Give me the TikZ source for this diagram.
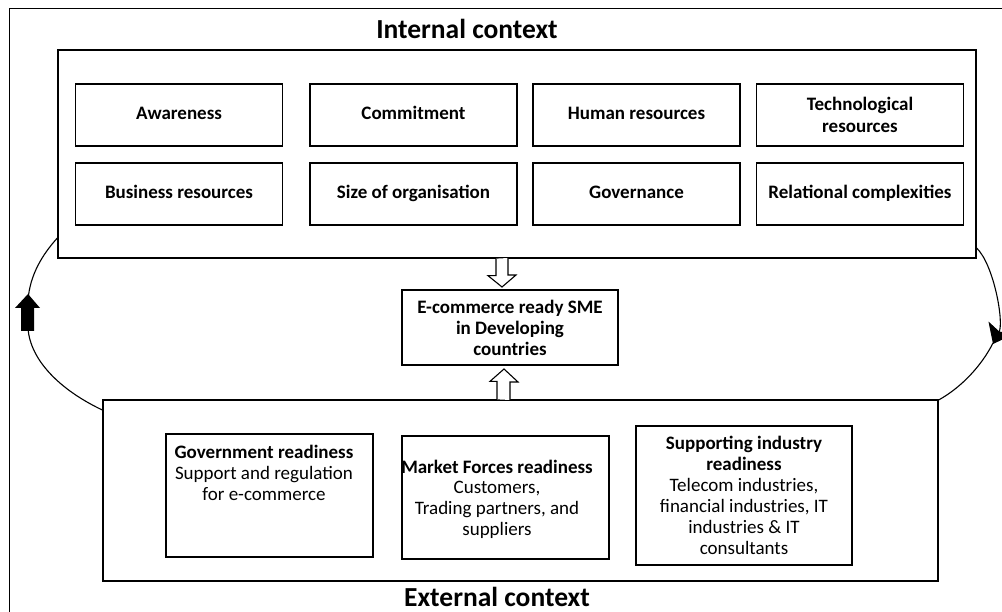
\documentclass[tikz,border=0pt]{standalone}
\usepackage{fontspec}
\setmainfont{Carlito}
\usetikzlibrary{arrows.meta,calc}
\begin{document}
\begin{tikzpicture}[x=1pt,y=-1pt,
  bigbox/.style={draw, line width=1.3pt, inner sep=0pt},
  fbox/.style={draw, line width=1.3pt, inner sep=0pt, minimum width=207pt, minimum height=62pt, align=center, font=\bfseries\fontsize{19}{22.5}\selectfont},
  one/.style={text height=13pt, text depth=4pt},
  lbox/.style={draw, line width=1.3pt, inner sep=0pt, align=center},
  txt/.style={align=center, inner sep=0pt, font=\fontsize{19}{20.7}\selectfont},
  title/.style={anchor=base, inner sep=0pt, font=\bfseries\fontsize{27.5}{30}\selectfont},
  hollow/.style={draw, line width=1.1pt, fill=white, line join=miter},
  loop/.style={line width=1.1pt}
]
\useasboundingbox (0,0) rectangle (1002,612);
% outer frame (right and bottom sides lie outside the picture)
\draw[line width=1pt] (9,612) -- (9,9) -- (1002,9);

% titles
\node[title] (intt) at (467,38.5) {Internal context};
\node[title] (extt) at (497,606) {External context};

% internal context
\node[bigbox, minimum width=918pt, minimum height=208pt] (int) at (517,154) {};
\node[fbox, one] (aw) at (179,115) {Awareness};
\node[fbox, one] (co) at (413.5,115) {Commitment};
\node[fbox, one] (hr) at (636.5,115) {Human resources};
\node[fbox] (tr) at (860,115) {Technological\\resources};
\node[fbox, one] (br) at (179,194) {Business resources};
\node[fbox, one] (so) at (413.5,194) {Size of organisation};
\node[fbox, one] (go) at (636.5,194) {Governance};
\node[fbox, one] (rc) at (860,194) {Relational complexities};

% centre
\node[lbox, minimum width=216pt, minimum height=75pt, font=\bfseries\fontsize{19}{21}\selectfont] (sme) at (510,327.5) {E-commerce ready SME\\in Developing\\countries};

% external context
\node[bigbox, minimum width=835pt, minimum height=181pt] (ext) at (520.5,490.5) {};
\node[lbox, minimum width=207pt, minimum height=123pt] (gov) at (269.5,495.5) {};
\node[txt] (govt) at (264,473) {\textbf{Government readiness}\\Support and regulation\\for e-commerce};
\node[lbox, minimum width=207pt, minimum height=123pt] (mkt) at (505.5,497.5) {};
\node[txt] (mktt) at (497,499) {\textbf{Market Forces readiness}\\Customers,\\Trading partners, and\\suppliers};
\node[lbox, minimum width=216pt, minimum height=139pt, font=\fontsize{19}{20.9}\selectfont] (sup) at (744,495.5) {\textbf{Supporting industry}\\\textbf{readiness}\\Telecom industries,\\financial industries, IT\\industries \& IT\\consultants};

% hollow block arrows
\coordinate (dA) at (int.south -| 502,0);
\draw[hollow] (dA) ++(-6,0) -- ++(0,17) -- ++(-8,0) -- (502,287) -- (516,275) -- (508,275) -- (508,258);
\coordinate (uA) at (ext.north -| 504,0);
\draw[hollow] (uA) ++(-7,0) -- ++(0,-18) -- ++(-7,0) -- (504,369) -- (518,382) -- (510,382) -- (510,400);

% feedback loop, left side (upwards)
\coordinate (l1) at (int.west |- 0,238);
\coordinate (l2) at (ext.west |- 0,410);
\draw[loop] (l1) .. controls (42,255) and (30,275) .. (28,300);
\draw[loop] (28,328) .. controls (30,360) and (60,390) .. (l2);
\fill (21,331) -- (21,308) -- (15,308) -- (28,294) -- (40,308) -- (34,308) -- (34,331) -- cycle;

% feedback loop, right side (downwards)
\coordinate (r1) at (int.east |- 0,248);
\coordinate (r2) at (ext.east |- 0,400);
\draw[loop, -{Stealth[length=18pt, width=28pt, inset=4pt]}] (r1) .. controls (994,265) and (1004,322) .. (993,344);
\draw[loop] (993,343) .. controls (982,365) and (962,387) .. (r2);
\end{tikzpicture}
\end{document}
